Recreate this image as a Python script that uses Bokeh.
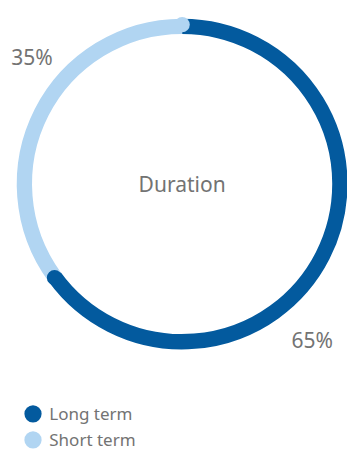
import math
from bokeh.plotting import figure
from bokeh.models import Range1d
from bokeh.core.properties import value
from bokeh.embed import file_html
from bokeh.resources import INLINE

# ---- data ----
categories = ["Long term", "Short term"]
shares = [65, 35]
colors = ["#035a9e", "#b1d5f2"]
center_title = "Duration"

FONT = "Noto Sans"
TEXT_COLOR = "#737373"

# layout space: 363 x 468 units (y measured upward), drawn into a 347 x 452 figure
W, H = 347, 452
SX = W / 363.0
p = figure(width=W, height=H, output_backend="svg", toolbar_location=None,
           x_range=Range1d(0, 363), y_range=Range1d(0, 468),
           min_border=0, tools="")
p.axis.visible = False
p.grid.visible = False
p.outline_line_color = None
p.background_fill_color = None
p.border_fill_color = None

def py(top_y):
    return 468 - top_y

cx, cy = 190, py(190)
R = 165
LW = 16 * SX

total = float(sum(shares))
angles = []
acc = 0.0
for s in shares:
    start = acc / total * 2 * math.pi
    acc += s
    end = acc / total * 2 * math.pi
    angles.append((start, end))

def bk(theta):
    return math.pi / 2 - theta

for (a0, a1), c in zip(angles, colors):
    p.arc(x=[cx], y=[cy], radius=R, start_angle=bk(a0), end_angle=bk(a1),
          direction="clock", line_color=c, line_width=LW, line_cap="butt")

# rounded segment ends
for (a0, a1), c in zip(angles, colors):
    ex = cx + R * math.sin(a1)
    ey = cy + R * math.cos(a1)
    p.circle(x=[ex], y=[ey], radius=8, fill_color=c, line_color=None)

p.text(x=[cx], y=[cy], text=[center_title], text_font=value(FONT),
       text_font_size="21px", text_color=TEXT_COLOR,
       text_align="center", text_baseline="middle")

label_pos = [(326, py(351)), (33, py(59))]
for (lx, ly), s in zip(label_pos, shares):
    p.text(x=[lx], y=[ly], text=[f"{s}%"], text_font=value(FONT),
           text_font_size="21px", text_color=TEXT_COLOR,
           text_align="center", text_baseline="middle")

leg_y = [py(428), py(455)]
for yy, name, c in zip(leg_y, categories, colors):
    p.circle(x=[34], y=[yy], radius=9, fill_color=c, line_color=None)
    p.text(x=[51], y=[yy], text=[name], text_font=value(FONT),
           text_font_size="17px", text_color=TEXT_COLOR,
           text_align="left", text_baseline="middle")

open("out.html", "w").write(file_html(p, INLINE))
